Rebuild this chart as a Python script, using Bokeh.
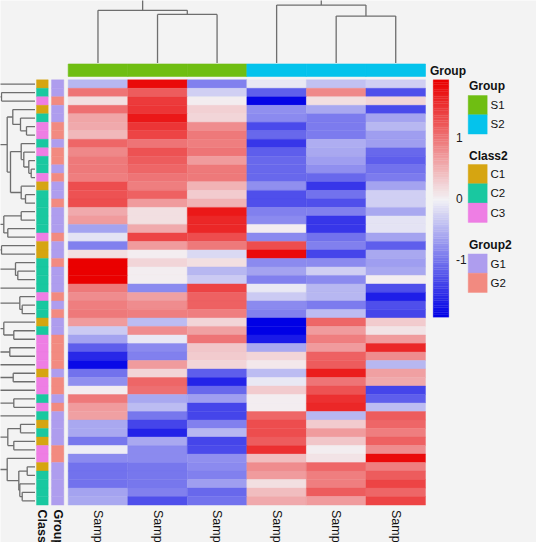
import numpy as np
from bokeh.plotting import figure
from bokeh.models import Range1d, ColumnDataSource, LinearColorMapper
from bokeh.transform import transform
from bokeh.core.properties import value
from bokeh.embed import file_html
from bokeh.resources import INLINE

# ---------------- data ----------------
samples = ["Sample1", "Sample2", "Sample3", "Sample4", "Sample5", "Sample6"]
sample_group = ["S1", "S1", "S1", "S2", "S2", "S2"]

values = [
    [-0.50, 1.85, -0.90, -0.10, -0.40, -0.30],
    [1.00, 1.20, -0.30, -1.20, 0.85, -1.30],
    [0.15, 1.45, 0.00, -1.90, 0.15, 0.20],
    [1.05, 1.50, 0.25, -0.80, -0.60, -1.35],
    [0.60, 1.75, 0.20, -0.85, -0.95, -0.65],
    [0.55, 1.50, 0.80, -1.35, -0.95, -0.50],
    [0.45, 1.40, 0.95, -1.10, -0.95, -0.70],
    [1.10, 1.00, 0.90, -1.50, -0.55, -0.70],
    [0.85, 1.25, 1.00, -1.20, -0.60, -1.10],
    [0.95, 1.20, 0.70, -1.10, -0.70, -1.20],
    [0.95, 1.10, 0.95, -1.10, -0.80, -1.05],
    [0.90, 1.00, 0.95, -1.10, -1.10, -0.95],
    [1.30, 0.90, 0.50, -0.80, -1.50, -0.65],
    [1.25, 1.15, 0.30, -1.30, -1.05, -0.30],
    [1.30, 0.70, 0.50, -1.30, -1.30, -0.30],
    [0.55, 0.15, 1.75, -0.90, -0.90, -0.60],
    [0.70, 0.15, 1.60, -0.85, -1.50, -0.15],
    [-0.65, 0.55, 1.60, 0.00, -1.50, -0.15],
    [-0.15, 1.40, 1.30, -0.85, -1.05, -0.65],
    [-0.90, 0.70, 0.95, 1.30, -0.90, -1.20],
    [0.15, 0.00, -0.20, 1.85, -1.40, -0.60],
    [1.95, 0.20, 0.15, -0.85, -0.85, -0.70],
    [1.95, 0.00, -0.50, -0.65, -0.30, -0.60],
    [1.95, 0.00, -0.35, -0.90, -0.85, 0.00],
    [0.95, -0.85, 1.40, -0.10, -0.50, -1.30],
    [0.80, 0.65, 1.15, -0.35, -0.50, -1.70],
    [0.90, 0.80, 1.15, -0.85, -0.95, -1.30],
    [0.95, 0.90, 0.90, -0.90, -0.45, -1.40],
    [0.70, -0.45, 0.20, -1.95, 1.10, 0.30],
    [-0.35, 0.80, 0.65, -1.95, 0.70, 0.10],
    [-0.65, -0.10, 1.00, -1.75, 0.90, 0.70],
    [-1.20, -0.85, 0.35, -0.60, 0.70, 1.60],
    [-1.60, -0.90, 0.30, 0.20, 1.15, 0.80],
    [-1.85, 0.70, 0.20, 0.05, 1.20, -0.50],
    [-1.05, 0.20, -1.20, -0.45, 1.70, 0.65],
    [-0.80, 1.10, -1.65, -0.10, 1.00, 0.55],
    [0.00, 1.05, -1.10, 0.30, 1.25, -1.40],
    [0.95, -0.60, -0.70, 0.00, 1.55, -1.20],
    [0.70, -0.45, -1.40, 0.00, 1.60, -0.45],
    [0.65, -1.00, -1.40, 1.10, -0.50, 1.20],
    [-0.60, -1.40, -0.90, 1.30, 0.30, 1.10],
    [-0.60, -1.65, -0.50, 1.30, 0.70, 0.90],
    [-1.00, -0.60, -1.40, 1.20, 0.35, 1.15],
    [-0.05, -0.85, -1.35, 1.55, 0.00, 0.80],
    [-0.85, -0.85, -0.80, 0.40, 0.10, 1.85],
    [-1.05, -1.00, -0.85, 0.80, 1.10, 0.90],
    [-1.05, -1.00, -0.90, 0.70, 0.90, 1.20],
    [-1.05, -1.00, -0.70, 0.15, 0.90, 1.40],
    [-0.65, -0.90, -1.10, 0.40, 1.20, 1.10],
    [-0.60, -1.30, -1.05, 0.55, 0.70, 1.40],
]

class2 = ["C1", "C2", "C3", "C1", "C2", "C3", "C3", "C2", "C3", "C2",
          "C2", "C3", "C1", "C2", "C2", "C2", "C2", "C2", "C3", "C1",
          "C1", "C2", "C2", "C2", "C2", "C3", "C2", "C2", "C1", "C2",
          "C3", "C3", "C3", "C3", "C1", "C3", "C3", "C2", "C3", "C2",
          "C1", "C2", "C1", "C3", "C3", "C1", "C2", "C2", "C2", "C2"]
group2 = ["G1", "G1", "G2", "G1", "G1", "G2", "G2", "G1", "G2", "G2",
          "G1", "G2", "G1", "G1", "G2", "G1", "G1", "G1", "G2", "G1",
          "G1", "G2", "G1", "G1", "G1", "G2", "G1", "G2", "G1", "G1",
          "G2", "G2", "G2", "G2", "G1", "G2", "G2", "G1", "G2", "G1",
          "G1", "G1", "G1", "G2", "G2", "G1", "G1", "G1", "G1", "G1"]

colorbar_ticks = [-1, 0, 1]

# dendrograms: (left, right, merge height); ints are leaves
col_tree = ((0, (1, 2, 48.5), 52.6), (3, (4, 5, 46.8), 57.8), 75.0)

row_sub_a = (3, (4, (5, 6, 8.5), 14.5), 22.2)
row_sub_b = (7, (8, (9, (10, 11, 3.8), 6.2), 11.2), 13.8)
row_sub_c = (12, (13, 14, 9.5), 13.8)
row_sub_d = ((15, 16, 13.8), (17, 18, 27.2), 31.2)
row_sub_e = (21, (22, 23, 17.2), 19.5)
row_sub_f = (25, (26, 27, 12.8), 15.2)
row_sub_g = (28, (29, 30, 21.2), 31.2)
row_sub_h = ((40, 41, 14.5), (42, 43, 21.2), 27.2)
row_sub_i = (44, ((45, 46, 7.8), (47, (48, 49, 12.8), 15.2), 16.2), 27.8)
row_tree = (
    (
        ((0, (1, 2, 33.5), 38.0),
         ((row_sub_a, (row_sub_b, row_sub_c, 24.5), 27.8), row_sub_d, 36.5), 44.0),
        (((19, 20, 33.5), row_sub_e, 37.0), (24, row_sub_f, 36.0), 41.0),
        50.0,
    ),
    (
        ((row_sub_g, (31, 32, 25.2), 37.5), (33, (34, 35, 21.8), 36.0), 40.0),
        (((36, (37, 38, 21.2), 36.0), 39, 38.0), (row_sub_h, row_sub_i, 36.5), 42.0),
        48.0,
    ),
    60.0,
)

# ---------------- styles / layout ----------------
W, H = 536, 542
BG = "#f3f3f3"
FONT = value("Liberation Sans")
HM_L, HM_R, HM_T, HM_B = 67.7, 425.0, 79.3, 504.6
NCOL, NROW = len(samples), len(values)
CW = (HM_R - HM_L) / NCOL
CH = (HM_B - HM_T) / NROW
RD_BASE = 34.5     # px where row-dendrogram leaves end
CD_BASE = 62.4     # px where column-dendrogram leaves end
DEND_COLOR = "#6e6e6e"

group_colors = {"S1": "#6fbe12", "S2": "#04c3ec"}
class_colors = {"C1": "#d6a511", "C2": "#19c8a0", "C3": "#ee7ee4"}
group2_colors = {"G1": "#ae9dee", "G2": "#f28a80"}

CB_LOW, CB_HIGH = -1.95, 1.95
CB_TOP, CB_BOT, CB_X0, CB_X1 = 79.3, 316.7, 432.7, 448.3


def hex2rgb(h):
    h = h.lstrip("#")
    return np.array([int(h[i:i + 2], 16) for i in (0, 2, 4)], float)


def ramp(c0, c1, n):
    a, b = hex2rgb(c0), hex2rgb(c1)
    out = []
    for t in np.linspace(0, 1, n):
        c = a + (b - a) * t
        out.append("#%02x%02x%02x" % tuple(int(round(v)) for v in c))
    return out


palette = ramp("#0000e6", "#f3f2f5", 50) + ramp("#f3f2f5", "#ea0000", 51)[1:]
mapper = LinearColorMapper(palette=palette, low=CB_LOW, high=CB_HIGH)

# ---------------- figure ----------------
p = figure(width=W, height=H,
           x_range=Range1d(-HM_L / CW, (W - HM_L) / CW),
           y_range=Range1d((H - HM_T) / CH, -HM_T / CH),
           output_backend="svg", toolbar_location=None,
           x_axis_location=None, y_axis_location=None,
           min_border=0, outline_line_color=None,
           background_fill_color=BG, border_fill_color=BG)
p.grid.visible = False

k_cb = (CB_BOT - CB_TOP) / (CB_HIGH - CB_LOW)
p.extra_x_ranges = {"px": Range1d(0, W), "rd": Range1d(RD_BASE, RD_BASE - W)}
p.extra_y_ranges = {"py": Range1d(H, 0), "cd": Range1d(CD_BASE - H, CD_BASE),
                    "cb": Range1d(CB_LOW - (H - CB_BOT) / k_cb, CB_HIGH + CB_TOP / k_cb)}

# heatmap
xs, ys, vs = [], [], []
for i, row in enumerate(values):
    for j, v in enumerate(row):
        xs.append(j + 0.5)
        ys.append(i + 0.5)
        vs.append(v)
src = ColumnDataSource(dict(x=xs, y=ys, v=vs))
p.rect(x="x", y="y", width=1, height=1, source=src,
       fill_color=transform("v", mapper), line_color=transform("v", mapper), line_width=0.4)

# row annotations
rows_y = [i + 0.5 for i in range(NROW)]
cls_cols = [class_colors[c] for c in class2]
grp2_cols = [group2_colors[g] for g in group2]
p.rect(x=41.85, y=rows_y, width=11.7, height=1, x_range_name="px",
       fill_color=cls_cols, line_color=cls_cols, line_width=0.4)
p.rect(x=57.15, y=rows_y, width=12.3, height=1, x_range_name="px",
       fill_color=grp2_cols, line_color=grp2_cols, line_width=0.4)

# column annotation
grp_cols = [group_colors[g] for g in sample_group]
p.rect(x=[j + 0.5 for j in range(NCOL)], y=69.7, width=1, height=12.4, y_range_name="py",
       fill_color=grp_cols, line_color=grp_cols, line_width=0.6)


# dendrograms
def dend(node, pos):
    if isinstance(node, int):
        return pos[node], 0.0, []
    l, r, h = node
    cl, hl, sl = dend(l, pos)
    cr, hr, sr = dend(r, pos)
    segs = sl + sr + [(cl, hl, cl, h), (cl, h, cr, h), (cr, h, cr, hr)]
    return (cl + cr) / 2, h, segs


_, _, rsegs = dend(row_tree, {i: i + 0.5 for i in range(NROW)})
p.segment(x0=[s[1] for s in rsegs], y0=[s[0] for s in rsegs],
          x1=[s[3] for s in rsegs], y1=[s[2] for s in rsegs],
          x_range_name="rd", line_color=DEND_COLOR, line_width=1.3)
_, _, csegs = dend(col_tree, {j: j + 0.5 for j in range(NCOL)})
p.segment(x0=[s[0] for s in csegs], y0=[s[1] for s in csegs],
          x1=[s[2] for s in csegs], y1=[s[3] for s in csegs],
          y_range_name="cd", line_color=DEND_COLOR, line_width=1.3)

# colour bar
n = len(palette)
step = (CB_HIGH - CB_LOW) / n
p.rect(x=(CB_X0 + CB_X1) / 2, y=[CB_LOW + step * (k + 0.5) for k in range(n)],
       width=CB_X1 - CB_X0, height=step, x_range_name="px", y_range_name="cb",
       fill_color=palette, line_color=palette, line_width=0.3)
p.text(x=455.5, y=colorbar_ticks, text=[str(t) for t in colorbar_ticks],
       x_range_name="px", y_range_name="cb", text_font=FONT, text_font_size="12px",
       text_color="#1a1a1a", text_align="left", text_baseline="middle")

# legends
LEG_SW_X, LEG_SW_W, SW_H = 477.2, 19.0, 19.3
legend_blocks = [
    ("Group", 85.5, 95.0, ["S1", "S2"], group_colors),
    ("Class2", 155.0, 164.0, ["C1", "C2", "C3"], class_colors),
    ("Group2", 244.0, 253.4, ["G1", "G2"], group2_colors),
]
for title, ty, top, labels, cmap in legend_blocks:
    p.text(x=[468.5], y=[ty], text=[title], x_range_name="px", y_range_name="py",
           text_font=FONT, text_font_size="12px", text_font_style="bold",
           text_color="#111111", text_align="left", text_baseline="middle")
    cy = [top + SW_H * (k + 0.5) for k in range(len(labels))]
    sw = [cmap[l] for l in labels]
    p.rect(x=LEG_SW_X, y=cy, width=LEG_SW_W, height=SW_H, x_range_name="px", y_range_name="py",
           fill_color=sw, line_color=sw, line_width=0.4)
    p.text(x=[490.0] * len(labels), y=cy, text=labels, x_range_name="px", y_range_name="py",
           text_font=FONT, text_font_size="11.5px", text_color="#111111",
           text_align="left", text_baseline="middle")

# top annotation name
p.text(x=[429.5], y=[70.0], text=["Group"], x_range_name="px", y_range_name="py",
       text_font=FONT, text_font_size="12px", text_font_style="bold",
       text_color="#111111", text_align="left", text_baseline="middle")

# bottom labels (rotated; cut by the page edge as in the reference)
p.text(x=[j + 0.5 for j in range(NCOL)], y=[509.5] * NCOL, text=samples, y_range_name="py",
       angle=-np.pi / 2, text_font=FONT, text_font_size="12.5px", text_color="#111111",
       text_align="left", text_baseline="middle")
p.text(x=[41.85, 57.15], y=[509.0, 509.0], text=["Class2", "Group2"],
       x_range_name="px", y_range_name="py", angle=-np.pi / 2,
       text_font=FONT, text_font_size="12.5px", text_font_style="bold", text_color="#111111",
       text_align="left", text_baseline="middle")

open("out.html", "w").write(file_html(p, INLINE))
